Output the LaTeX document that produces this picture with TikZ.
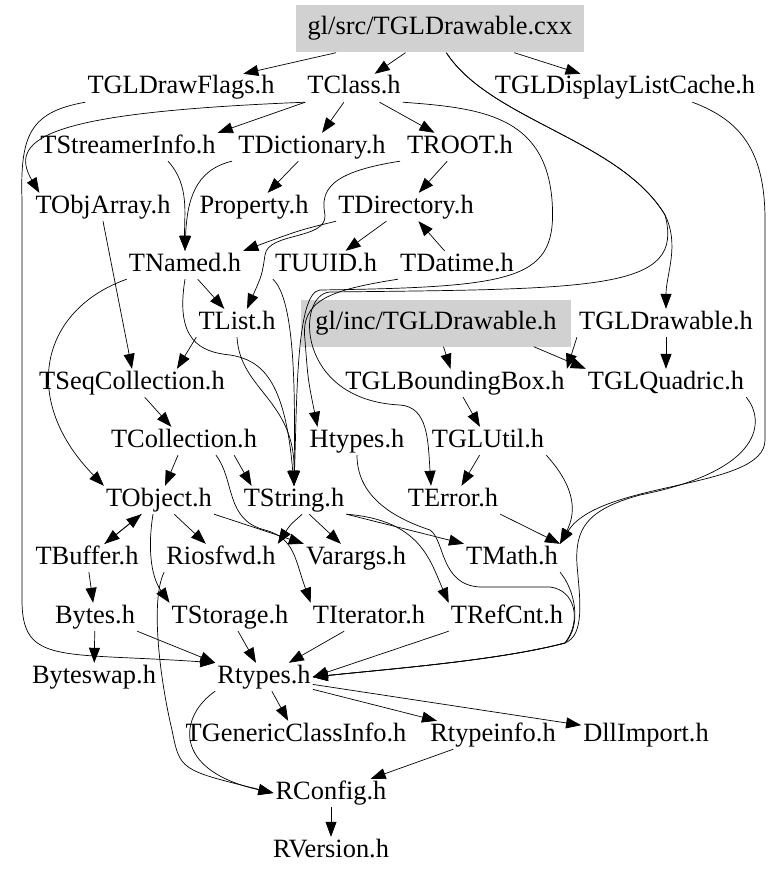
\documentclass[tikz,border=0pt]{standalone}
\usepackage{fontspec}
\setmainfont{Liberation Serif}
\usetikzlibrary{arrows.meta}
\tikzset{
  file/.style={font=\fontsize{26.4}{30}\selectfont, inner sep=2pt, text height=18pt, text depth=6pt},
  curfile/.style={file, fill=black!18, inner xsep=12pt, minimum height=47pt},
  dep/.style={line width=0.7pt, -{Triangle[length=15pt,width=11pt]}}
}
\begin{document}
\begin{tikzpicture}[x=1pt,y=-1pt]
		%%%%% START %%%%%
		\useasboundingbox (0,0) rectangle (779,880);
		
		\node[curfile] (src) at (440,29) {gl/src/TGLDrawable.cxx};
		
		\node[file] (drawflags) at (181,88) {TGLDrawFlags.h};
		\node[file] (tclass) at (354,88) {TClass.h};
		\node[file] (dlcache) at (625,88) {TGLDisplayListCache.h};
		
		\node[file] (streamer) at (128,147) {TStreamerInfo.h};
		\node[file] (dict) at (312,147) {TDictionary.h};
		\node[file] (troot) at (460,147) {TROOT.h};
		
		\node[file] (objarray) at (103,207) {TObjArray.h};
		\node[file] (property) at (254,207) {Property.h};
		\node[file] (directory) at (406,207) {TDirectory.h};
		
		\node[file] (named) at (185,265) {TNamed.h};
		\node[file] (uuid) at (326,265) {TUUID.h};
		\node[file] (datime) at (457,265) {TDatime.h};
		
		\node[file] (tlist) at (237,323) {TList.h};
		\node[curfile, inner xsep=14pt] (inc) at (436,323) {gl/inc/TGLDrawable.h};
		\node[file] (drawable) at (666,323) {TGLDrawable.h};
		
		\node[file] (seqcoll) at (132,383) {TSeqCollection.h};
		\node[file] (bbox) at (455,383) {TGLBoundingBox.h};
		\node[file] (quadric) at (666,383) {TGLQuadric.h};
		
		\node[file] (coll) at (184,441) {TCollection.h};
		\node[file] (htypes) at (357,441) {Htypes.h};
		\node[file] (glutil) at (488,441) {TGLUtil.h};
		
		\node[file] (tobject) at (159,500) {TObject.h};
		\node[file] (tstring) at (294,500) {TString.h};
		\node[file] (terror) at (453,500) {TError.h};
		
		\node[file] (tbuffer) at (87,558) {TBuffer.h};
		\node[file] (riosfwd) at (221,558) {Riosfwd.h};
		\node[file] (varargs) at (356,558) {Varargs.h};
		\node[file] (tmath) at (512,558) {TMath.h};
		
		\node[file] (bytes) at (95,617) {Bytes.h};
		\node[file] (storage) at (230,617) {TStorage.h};
		\node[file] (iterator) at (369,617) {TIterator.h};
		\node[file] (refcnt) at (507,617) {TRefCnt.h};
		
		\node[file] (byteswap) at (94,677) {Byteswap.h};
		\node[file] (rtypes) at (264,677) {Rtypes.h};
		
		\node[file] (genclass) at (296,735) {TGenericClassInfo.h};
		\node[file] (rtypeinfo) at (493,735) {Rtypeinfo.h};
		\node[file] (dllimport) at (646,735) {DllImport.h};
		
		\node[file] (rconfig) at (331,793) {RConfig.h};
		\node[file] (rversion) at (331,851) {RVersion.h};
		
		% from the source file
		\draw[dep] (src) -- (drawflags);
		\draw[dep] (src) -- (tclass);
		\draw[dep] (src) -- (dlcache);
		\draw[dep] (src.-75) .. controls (490,120) and (620,140) .. (665,215) .. controls (680,245) and (666,275) .. (drawable.north);
		\draw[dep] (src.-75) .. controls (490,120) and (620,140) .. (665,215) .. controls (685,290) and (600,289) .. (330,292) .. controls (296,294) and (295,400) .. (400,405) .. controls (428,407) and (428,440) .. ([xshift=-22pt]terror.north);
		
		\draw[dep] (drawflags.south west) .. controls (30,112) and (20,135) .. (22,200) -- (22,600) .. controls (22,665) and (60,652) .. (rtypes.north west);
		
		\draw[dep] (tclass.south west) -- (streamer.north east);
		\draw[dep] (tclass) -- (dict);
		\draw[dep] (tclass) -- (troot);
		\draw[dep] (tclass.south west) .. controls (60,112) and (5,135) .. ([xshift=6pt]objarray.north west);
		\draw[dep] (tclass.south east) .. controls (480,108) and (545,115) .. (552,200) .. controls (558,280) and (520,287) .. (320,290) .. controls (296,292) and (297,400) .. (tstring.north);
		
		\draw[dep] ([xshift=40pt]streamer.south) .. controls (190,185) and (184,215) .. (named.north);
		\draw[dep] ([xshift=-80pt]dict.south) .. controls (195,170) and (187,200) .. (named.north);
		\draw[dep] (dict) -- (property);
		\draw[dep] (troot) -- (directory);
		\draw[dep] ([xshift=-60pt]troot.south) .. controls (330,172) and (320,190) .. (325,215) .. controls (327,240) and (268,232) .. (265,255) .. controls (262,275) .. ([xshift=10pt]tlist.north);
		
		\draw[dep] (directory.south west) .. controls (300,230) .. (named.north east);
		\draw[dep] (directory) -- (uuid);
		\draw[dep] (datime) -- (directory);
		
		\draw[dep] (named) -- (tlist);
		\draw[dep] (named.south west) .. controls (40,310) and (20,400) .. (tobject.north west);
		\draw[dep] (named.south) .. controls (175,340) and (200,352) .. (230,355) .. controls (262,360) and (285,380) .. (tstring.north);
		\draw[dep] (uuid.south west) .. controls (296,300) and (295,400) .. (tstring.north);
		\draw[dep] (datime.south west) .. controls (330,290) and (300,300) .. (305,340) .. controls (308,380) .. ([xshift=10pt]htypes.north west);
		
		\draw[dep] (objarray.south) -- (seqcoll.north);
		\draw[dep] (tlist.south west) -- ([xshift=-50pt]seqcoll.north east);
		\draw[dep] (tlist.south) .. controls (240,390) and (295,400) .. (tstring.north);
		\draw[dep] (seqcoll) -- (coll);
		
		\draw[dep] (coll) -- (tobject);
		\draw[dep] ([xshift=-25pt]coll.south east) -- ([xshift=10pt]tstring.north west);
		\draw[dep] ([xshift=32pt]coll.south) .. controls (235,480) and (225,520) .. (265,530) .. controls (295,538) and (295,560) .. (iterator.north west);
		
		% gl headers
		\draw[dep] (inc) -- (bbox);
		\draw[dep] ([xshift=-37pt]inc.south east) -- (quadric.north west);
		\draw[dep] (drawable.south west) -- (bbox.north east);
		\draw[dep] (drawable) -- (quadric);
		\draw[dep] (bbox) -- (glutil);
		\draw[dep] (glutil) -- (terror);
		\draw[dep] (glutil.south east) .. controls (578,490) and (575,515) .. (tmath.north east);
		\draw[dep] (terror.south east) -- (tmath.north east);
		\draw[dep] ([xshift=-65pt]dlcache.south east) .. controls (740,120) and (765,150) .. (765,220) -- (765,440) .. controls (765,490) and (600,480) .. (tmath.north east);
		\draw[dep] (quadric.south east) .. controls (765,420) and (765,470) .. (640,495) .. controls (585,510) and (575,530) .. (577,565) .. controls (580,600) and (585,635) .. (565,643) .. controls (500,660) and (400,668) .. (rtypes.east);
		\draw[dep] (tmath.south east) .. controls (575,590) and (582,625) .. (565,643) .. controls (500,660) and (400,668) .. (rtypes.east);
		
		\draw[dep] (tstring) -- (varargs);
		\draw[dep] (tstring.-60) .. controls (290,525) .. (riosfwd.north east);
		\draw[dep] (tstring.south east) -- (tmath.north west);
		\draw[dep] (tstring.south east) .. controls (420,520) and (430,560) .. (refcnt.north west);
		\draw[dep] (htypes.south) .. controls (357,500) and (400,520) .. (430,530) .. controls (445,540) and (440,585) .. (480,587) -- (550,587) .. controls (575,590) and (582,620) .. (565,643) .. controls (500,660) and (400,668) .. (rtypes.east);
		
		\draw[dep] (tobject) -- (tbuffer);
		\draw[dep] (tbuffer) -- (tobject);
		\draw[dep] (tobject) -- (riosfwd);
		\draw[dep] (tobject.south east) -- (varargs.north west);
		\draw[dep] ([xshift=-6pt]tobject.south) .. controls (148,545) and (150,575) .. (storage.north west);
		\draw[dep] (riosfwd.south west) .. controls (150,600) and (160,680) .. (172,730) .. controls (180,770) .. (rconfig.west);
		
		\draw[dep] (tbuffer) -- (bytes);
		\draw[dep] (bytes) -- (byteswap);
		\draw[dep] (bytes.south east) -- (rtypes.north west);
		\draw[dep] (storage) -- (rtypes);
		\draw[dep] (iterator) -- (rtypes);
		\draw[dep] (refcnt.south west) -- (rtypes.east);
		
		\draw[dep] (rtypes) -- (genclass);
		\draw[dep] (rtypes) -- (rtypeinfo);
		\draw[dep] (rtypes) -- (dllimport);
		\draw[dep] (rtypes.south west) .. controls (180,715) and (170,770) .. (rconfig.west);
		\draw[dep] (rtypeinfo) -- (rconfig);
		\draw[dep] (rconfig) -- (rversion);
		
		%%%%% END %%%%%
	\end{tikzpicture}
\end{document}
